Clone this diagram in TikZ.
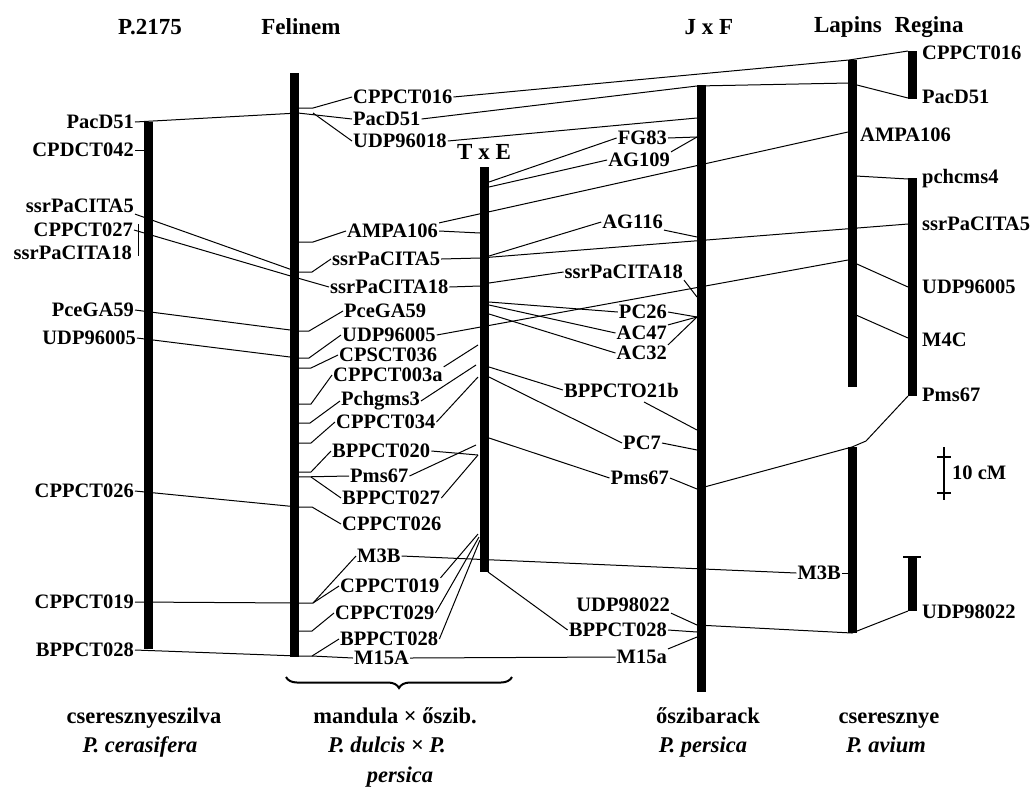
\documentclass[tikz,border=0pt]{standalone}
\usepackage{fontspec}
\setmainfont{Liberation Serif}
\usetikzlibrary{decorations.pathreplacing}

\begin{document}
\begin{tikzpicture}[x=1pt,y=-1pt,
    lbl/.style={font=\bfseries\fontsize{20.5}{23}\selectfont,inner sep=1pt},
    hd/.style={font=\bfseries\fontsize{23}{26}\selectfont,inner sep=0pt},
    sp/.style={font=\bfseries\fontsize{22.5}{26}\selectfont,inner sep=0pt,anchor=base},
    spi/.style={font=\bfseries\itshape\fontsize{22.5}{26}\selectfont,inner sep=0pt,anchor=base},
    chrom/.style={line width=9pt},
    lnk/.style={line width=1pt}]
  \useasboundingbox (0,0) rectangle (1035,796);

  % map names
  \node[hd] (hP) at (150,27) {P.2175};
  \node[hd] (hF) at (301,27) {Felinem};
  \node[hd] (hT) at (484,152) {T x E};
  \node[hd] (hJ) at (709,27) {J x F};
  \node[hd] (hL) at (848,27) {Lapins};
  \node[hd] (hR) at (929,27) {Regina};

  % marker labels
  \foreach \n/\x/\y in {PacD51/135/122,CPDCT042/135/150,ssrPaCITA5/135/206,
      CPPCT027/134/230,ssrPaCITA18/133/253,PceGA59/135/310,UDP96005/137/338,
      CPPCT026/135/491,CPPCT019/135/602,BPPCT028/135/650}
    \node[lbl,anchor=east] (p\n) at (\x,\y) {\n};
  \foreach \n/\x/\y in {CPPCT016/352/97,PacD51/352/119,UDP96018/352/141,
      AMPA106/346/231,ssrPaCITA5/331/259,ssrPaCITA18/329/287,PceGA59/343/311,
      UDP96005/341/335,CPSCT036/338/355,CPPCT003a/332/375,Pchgms3/340/401,
      CPPCT034/335/422,BPPCT020/331/451,Pms67/349/476,BPPCT027/341/498,
      CPPCT026/341/524,M3B/356/556,CPPCT019/339/586,CPPCT029/334/613,
      BPPCT028/339/639,M15A/353/658}
    \node[lbl,anchor=west] (f\n) at (\x,\y) {\n};
  \foreach \n/\x/\y in {FG83/668/138,AG109/671/160,AG116/664/222,
      ssrPaCITA18/684/272,PC26/668/312,AC47/668/333,AC32/668/353,
      BPPCTO21b/680/390,PC7/662/443,Pms67/670/478,UDP98022/671/605,
      BPPCT028/668/630,M15a/668/657}
    \node[lbl,anchor=east] (j\n) at (\x,\y) {\n};
  \node[lbl,anchor=west] (lAMPA106) at (859,135) {AMPA106};
  \node[lbl,anchor=east] (lM3B) at (842,573) {M3B};
  \foreach \n/\y in {CPPCT016/53,PacD51/97,pchcms4/179,ssrPaCITA5/224,
      UDP96005/287,M4C/340,Pms67/395,UDP98022/612}
    \node[lbl,anchor=west] (r\n) at (921,\y) {\n};

  % marker points on the bars
  \coordinate (pk1) at (148,150);
  \coordinate (pb0) at (138,224); \coordinate (pb1) at (138,256);
  \coordinate (fm1) at (298,108);  \coordinate (fm2) at (298,113);
  \coordinate (fm3) at (298,242);  \coordinate (fm4) at (298,272);
  \coordinate (fm5) at (294,277);  \coordinate (fm6) at (298,331);
  \coordinate (fm7) at (298,358);  \coordinate (fm8) at (298,368);
  \coordinate (fm9) at (298,404);  \coordinate (fm10) at (298,423);
  \coordinate (fm11) at (298,443); \coordinate (fm12) at (298,472);
  \coordinate (fm13) at (298,477); \coordinate (fm14) at (298,507);
  \coordinate (fm15) at (298,603); \coordinate (fm16) at (298,631);
  \coordinate (fm17) at (298,656);
  \coordinate (tl1) at (480,233);  \coordinate (tl2) at (480,258);
  \coordinate (tl3) at (480,286);  \coordinate (tl4) at (478,345);
  \coordinate (tl5) at (476,365);  \coordinate (tl6) at (478,377);
  \coordinate (tl7) at (476,445);  \coordinate (tl8) at (478,455);
  \coordinate (tl9) at (478,534);  \coordinate (tl10) at (479,537);
  \coordinate (tl11) at (480,540);
  \coordinate (tr1) at (489,182);  \coordinate (tr2) at (489,187);
  \coordinate (tr3) at (489,256);  \coordinate (tr4) at (489,283);
  \coordinate (tr5) at (489,302);  \coordinate (tr6) at (489,305);
  \coordinate (tr7) at (489,314);  \coordinate (tr8) at (489,367);
  \coordinate (tr9) at (489,377);  \coordinate (tr10) at (489,438);
  \coordinate (tr11) at (488,572);
  \coordinate (jb21) at (644,402);
  \coordinate (jm1) at (697,86);   \coordinate (jm2) at (697,118);
  \coordinate (jm3) at (697,137);  \coordinate (jm4) at (697,237);
  \coordinate (jm5) at (697,297);  \coordinate (jm6) at (697,317);
  \coordinate (jm7) at (697,430);  \coordinate (jm8) at (697,450);
  \coordinate (jm9) at (697,489);  \coordinate (jm10) at (697,625);
  \coordinate (jm11) at (697,632); \coordinate (jm12) at (697,637);
  \coordinate (lm1) at (849,60);   \coordinate (lm2) at (849,83);
  \coordinate (lm3) at (848,132);  \coordinate (lm4) at (856,176);
  \coordinate (lm5) at (848,260);  \coordinate (lm6) at (856,315);
  \coordinate (lm7) at (852,447);  \coordinate (lm8) at (848,573);
  \coordinate (lm9) at (852,633);
  \coordinate (rg1) at (908,51);   \coordinate (rg2) at (908,98);
  \coordinate (rg3) at (908,179);  \coordinate (rg4) at (908,224);
  \coordinate (rg5) at (908,287);  \coordinate (rg6) at (908,338);
  \coordinate (rg7) at (908,396);  \coordinate (rg8) at (908,611);

  % P.2175 - Felinem
  \draw[lnk] (pPacD51.east) -- (fm2) -- (fPacD51.west);
  \draw[lnk] ([xshift=15pt]fm2) -- (fUDP96018.west);
  \draw[lnk] (fm1) -- ++(15,0) -- (fCPPCT016.west);
  \draw[lnk] (pCPDCT042.east) -- (pk1);
  \draw[lnk] (pb0) -- (pb1);
  \draw[lnk] (pssrPaCITA5.south east) -- (fm4) -- ++(14,0) -- (fssrPaCITA5.west);
  \draw[lnk] (pCPPCT027.east) -- (fm5) -- (fssrPaCITA18.west);
  \draw[lnk] (pPceGA59.east) -- (fm6) -- ++(11,0) -- (fPceGA59.west);
  \draw[lnk] (pUDP96005.east) -- (fm7) -- ++(11,0) -- (fUDP96005.west);
  \draw[lnk] (fm3) -- ++(15,0) -- (fAMPA106.west);
  \draw[lnk] (fm8) -- ++(13,0) -- (fCPSCT036.west);
  \draw[lnk] (fm9) -- ++(13,0) -- (fCPPCT003a.west);
  \draw[lnk] (fm10) -- ++(12,0) -- (fPchgms3.west);
  \draw[lnk] (fm11) -- ++(13,0) -- (fCPPCT034.west);
  \draw[lnk] (fm12) -- ++(13,0) -- (fBPPCT020.west);
  \draw[lnk] (fm13) -- (fPms67.west);
  \draw[lnk] ([xshift=13pt]fm13) -- (fBPPCT027.west);
  \draw[lnk] (pCPPCT026.east) -- (fm14) -- ++(14,0) -- (fCPPCT026.west);
  \draw[lnk] (pCPPCT019.east) -- (fm15) -- ++(15,0) -- (fCPPCT019.west);
  \draw[lnk] ([xshift=15pt]fm15) -- (fM3B.west);
  \draw[lnk] (fm16) -- ++(14,0) -- (fCPPCT029.west);
  \draw[lnk] (pBPPCT028.east) -- (fm17) -- ++(14,0) -- (fBPPCT028.west);
  \draw[lnk] ([xshift=14pt]fm17) -- (fM15A.west);

  % Felinem - T x E, J x F, Lapins, Regina
  \draw[lnk] (fCPPCT016.east) -- (lm1) -- (rg1);
  \draw[lnk] (fPacD51.east) -- (jm1) -- (lm2) -- (rg2);
  \draw[lnk] (fUDP96018.east) -- (jm2);
  \draw[lnk] (fAMPA106.east) -- (tl1);
  \draw[lnk] (fAMPA106.north east) -- (lm3);
  \draw[lnk] (fssrPaCITA5.east) -- (tl2) -- (rg4);
  \draw[lnk] (fssrPaCITA18.east) -- (tl3);
  \draw[lnk] (fUDP96005.east) -- (lm5) -- (rg5);
  \draw[lnk] (fCPPCT003a.north east) -- (tl4);
  \draw[lnk] (fPchgms3.east) -- (tl5);
  \draw[lnk] (fCPPCT034.east) -- (tl6);
  \draw[lnk] (fPms67.east) -- (tl7);
  \draw[lnk] (fBPPCT020.east) -- (tl8);
  \draw[lnk] (fBPPCT027.east) -- (tl8);
  \draw[lnk] (fM3B.east) -- (lM3B.west);
  \draw[lnk] (lM3B.east) -- (lm8);
  \draw[lnk] (fCPPCT019.north east) -- (tl9);
  \draw[lnk] (fCPPCT029.east) -- (tl10);
  \draw[lnk] (fBPPCT028.east) -- (tl11);
  \draw[lnk] (fM15A.east) -- (jM15a.west);

  % T x E - J x F
  \draw[lnk] (tr1) -- (jFG83.west) (jFG83.east) -- (jm3);
  \draw[lnk] (tr2) -- (jAG109.west) (jAG109.north east) -- (jm3);
  \draw[lnk] (tr3) -- (jAG116.west) (jAG116.south east) -- (jm4);
  \draw[lnk] (tr4) -- (jssrPaCITA18.west) (jssrPaCITA18.south east) -- (jm5);
  \draw[lnk] (tr5) -- (jPC26.west) (jPC26.east) -- (jm6);
  \draw[lnk] (tr6) -- (jAC47.west) (jAC47.north east) -- (jm6);
  \draw[lnk] (tr7) -- (jAC32.west) (jAC32.north east) -- (jm6);
  \draw[lnk] (tr8) -- (jBPPCTO21b.west) (jb21) -- (jm7);
  \draw[lnk] (tr9) -- (jPC7.west) (jPC7.east) -- (jm8);
  \draw[lnk] (tr10) -- (jPms67.west) (jPms67.east) -- (jm9) -- (lm7) -- ++(14,-6) -- (rg7);
  \draw[lnk] (tr11) -- (jBPPCT028.west) (jBPPCT028.east) -- (jm11);
  \draw[lnk] (jUDP98022.south east) -- (jm10) -- (lm9) -- (rg8);
  \draw[lnk] (jM15a.north east) -- (jm12);

  % Lapins - Regina
  \draw[lnk] (lm4) -- (rg3);
  \draw[lnk] (lm6) -- (rg6);

  % chromosomes
  \coordinate (P0) at (148.5,122); \coordinate (P1) at (148.5,649);
  \coordinate (F0) at (294,73);    \coordinate (F1) at (294,657);
  \coordinate (T0) at (484.5,167); \coordinate (T1) at (484.5,572);
  \coordinate (J0) at (701.5,85);  \coordinate (J1) at (701.5,692);
  \coordinate (L0) at (852,60);    \coordinate (L1) at (852,387);
  \coordinate (L2) at (852,447);   \coordinate (L3) at (852,633);
  \coordinate (R0) at (912,51);    \coordinate (R1) at (912,99);
  \coordinate (R2) at (912,178);   \coordinate (R3) at (912,396);
  \coordinate (R4) at (912,557);   \coordinate (R5) at (912,611);
  \foreach \a/\b in {P0/P1,F0/F1,T0/T1,J0/J1,L0/L1,L2/L3,R0/R1,R2/R3,R4/R5}
    \draw[chrom] (\a) -- (\b);
  \draw[line width=2pt] (903,557) -- (921,557);

  % scale
  \coordinate (S0) at (944,447); \coordinate (S1) at (944,500);
  \draw[line width=1.6pt] (S0) -- (S1);
  \draw[line width=1.6pt] (937,457) -- (951,457) (937,493) -- (951,493);
  \node[lbl,anchor=west] (scl) at (951,473) {10 cM};

  % brace and species
  \coordinate (B0) at (286,677); \coordinate (B1) at (512,677);
  \draw[line width=2pt,decorate,decoration={brace,mirror,amplitude=11pt}] (B0) -- (B1);
  \node[sp] (c1a) at (144,723) {cseresznyeszilva};
  \node[spi] (c1b) at (140,752) {P. cerasifera};
  \node[sp] (c2a) at (395,723) {mandula × őszib.};
  \node[spi] (c2b) at (387,752) {P. dulcis × P.};
  \node[spi] (c2c) at (400,782) {persica};
  \node[sp] (c3a) at (708,723) {őszibarack};
  \node[spi] (c3b) at (703,752) {P. persica};
  \node[sp] (c4a) at (889,723) {cseresznye};
  \node[spi] (c4b) at (886,752) {P. avium};
\end{tikzpicture}
\end{document}
